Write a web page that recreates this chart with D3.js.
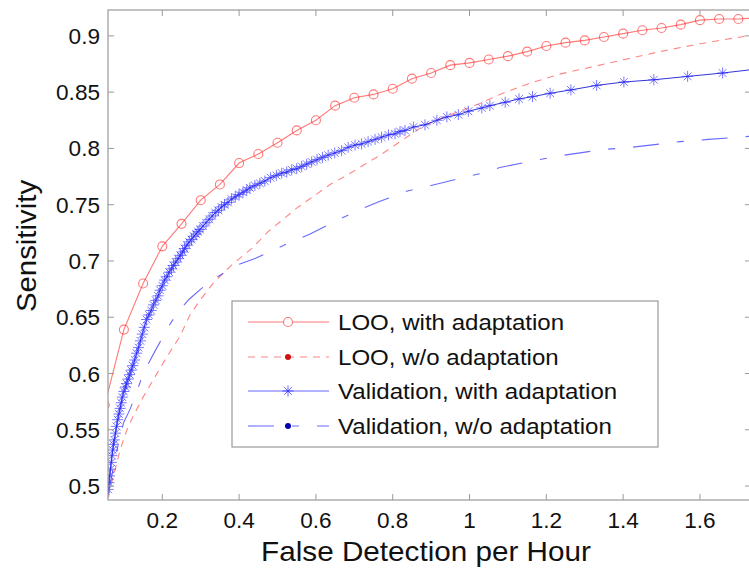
<!DOCTYPE html>
<html>
<head>
<meta charset="utf-8">
<script src="https://cdn.jsdelivr.net/npm/d3@7"></script>
<style>
  html, body { margin: 0; padding: 0; background: #fff; }
  svg { display: block; font-family: "Liberation Sans", Arial, sans-serif; }
</style>
</head>
<body>
<svg id="chart" width="749" height="580"></svg>
<script>
// LOO, with adaptation (sampled every 0.05 false detections per hour)
const looAdaptX = [0.05,0.10,0.15,0.20,0.25,0.30,0.35,0.40,0.45,0.50,0.55,0.60,0.65,0.70,0.75,0.80,0.85,0.90,0.95,1.00,1.05,1.10,1.15,1.20,1.25,1.30,1.35,1.40,1.45,1.50,1.55,1.60,1.65,1.70,1.75];
const looAdaptY = [0.572,0.639,0.680,0.713,0.733,0.754,0.768,0.787,0.795,0.805,0.816,0.825,0.838,0.845,0.848,0.853,0.862,0.867,0.874,0.876,0.879,0.882,0.886,0.891,0.894,0.896,0.899,0.902,0.905,0.907,0.910,0.914,0.915,0.915,0.916];

// LOO, without adaptation
const looNoAdaptX = [0.060,0.065,0.079,0.090,0.108,0.124,0.150,0.181,0.212,0.246,0.272,0.298,0.332,0.376,0.436,0.472,0.511,0.550,0.592,0.637,0.680,0.723,0.763,0.806,0.845,0.880,0.950,1.027,1.079,1.157,1.235,1.313,1.404,1.495,1.600,1.740];
const looNoAdaptY = [0.490,0.499,0.517,0.532,0.550,0.562,0.579,0.597,0.615,0.633,0.652,0.665,0.680,0.695,0.712,0.725,0.736,0.747,0.757,0.768,0.776,0.785,0.793,0.803,0.812,0.820,0.830,0.840,0.848,0.858,0.866,0.872,0.879,0.886,0.893,0.901];

// Validation, with adaptation (one marker per operating point)
const valAdaptX = [0.059,0.061,0.063,0.065,0.067,0.069,0.071,0.073,0.075,0.078,0.081,0.084,0.087,0.090,0.093,0.096,0.100,0.104,0.107,0.111,0.115,0.119,0.123,0.128,0.133,0.138,0.143,0.148,0.153,0.159,0.165,0.171,0.177,0.183,0.189,0.194,
  0.200,0.206,0.212,0.218,0.224,0.229,0.235,0.241,0.247,0.253,0.258,0.264,0.270,0.276,0.282,0.288,0.293,0.298,0.306,0.314,0.322,0.330,0.338,0.346,0.354,0.362,0.371,0.380,0.390,0.400,0.410,0.420,0.428,0.441,0.454,0.467,0.482,0.497,
  0.511,0.524,0.537,0.550,0.563,0.576,0.589,0.603,0.617,0.632,0.649,0.667,0.684,0.702,0.719,0.736,0.754,0.771,0.789,0.806,0.819,0.832,0.854,0.884,0.915,0.941,0.971,0.997,1.032,1.053,1.093,1.129,1.164,1.210,1.264,1.331,1.402,1.480,1.568,1.659,1.760];
const valAdaptY = [0.497,0.503,0.509,0.515,0.521,0.527,0.532,0.537,0.541,0.547,0.553,0.559,0.564,0.569,0.574,0.579,0.584,0.588,0.591,0.595,0.599,0.603,0.607,0.612,0.618,0.623,0.629,0.635,0.641,0.648,0.652,0.656,0.661,0.665,0.669,0.674,
  0.678,0.683,0.686,0.690,0.693,0.696,0.699,0.702,0.705,0.708,0.711,0.714,0.717,0.719,0.722,0.724,0.726,0.728,0.731,0.734,0.737,0.740,0.743,0.745,0.748,0.750,0.752,0.755,0.757,0.759,0.761,0.763,0.765,0.767,0.769,0.771,0.774,0.776,
  0.778,0.779,0.781,0.782,0.784,0.786,0.788,0.790,0.792,0.794,0.796,0.798,0.801,0.803,0.804,0.806,0.808,0.810,0.812,0.813,0.815,0.816,0.819,0.821,0.825,0.828,0.830,0.833,0.836,0.838,0.841,0.844,0.846,0.849,0.852,0.856,0.859,0.861,0.864,0.867,0.871];

// Validation, without adaptation
const valNoAdaptX = [0.058,0.075,0.087,0.099,0.117,0.138,0.150,0.186,0.215,0.241,0.270,0.300,0.330,0.363,0.400,0.440,0.472,0.530,0.585,0.654,0.710,0.767,0.836,0.900,0.958,1.032,1.079,1.150,1.227,1.348,1.422,1.548,1.622,1.740];
const valNoAdaptY = [0.492,0.520,0.540,0.556,0.569,0.588,0.600,0.623,0.641,0.655,0.666,0.675,0.683,0.690,0.697,0.702,0.707,0.716,0.724,0.736,0.745,0.753,0.762,0.767,0.772,0.778,0.783,0.788,0.793,0.799,0.801,0.806,0.808,0.811];

const xTicks = [0.2,0.4,0.6,0.8,1.0,1.2,1.4,1.6];
const yTicks = [0.5,0.55,0.6,0.65,0.7,0.75,0.8,0.85,0.9];

const legendLabels = ["LOO, with adaptation","LOO, w/o adaptation","Validation, with adaptation","Validation, w/o adaptation"];

const svg = d3.select("#chart");
const plot = { left: 108, top: 10, right: 751, bottom: 500 };

const x = d3.scaleLinear().domain([0.0586, 1.733]).range([plot.left, plot.right]);
const y = d3.scaleLinear().domain([0.4876, 0.923]).range([plot.bottom, plot.top]);

const RED = "#ff2020", BLUE = "#2a2aff";
const redDash = "7,6", blueDashDot = "26,18,7,18";

svg.append("defs").append("clipPath").attr("id", "plotClip")
  .append("rect").attr("x", plot.left).attr("y", plot.top)
  .attr("width", plot.right - plot.left).attr("height", plot.bottom - plot.top);

const zip = (xs, ys) => xs.map((v, i) => [v, ys[i]]);
const line = d3.line().x(d => x(d[0])).y(d => y(d[1]));

const series = svg.append("g").attr("clip-path", "url(#plotClip)");

// dashed curves first so the marked curves sit on top
series.append("path").datum(zip(looNoAdaptX, looNoAdaptY))
  .attr("d", line).attr("fill", "none").attr("stroke", RED)
  .attr("stroke-opacity", 0.55).attr("stroke-width", 1.1).attr("stroke-dasharray", redDash);

series.append("path").datum(zip(valNoAdaptX, valNoAdaptY))
  .attr("d", line).attr("fill", "none").attr("stroke", BLUE)
  .attr("stroke-opacity", 0.7).attr("stroke-width", 1.1).attr("stroke-dasharray", blueDashDot);

// Validation with adaptation: thin line + asterisk markers
const star = r => {
  const d = r * 0.7071;
  return `M${-r},0L${r},0M0,${-r}L0,${r}M${-d},${-d}L${d},${d}M${-d},${d}L${d},${-d}`;
};
const valPts = zip(valAdaptX, valAdaptY);
series.append("path").datum(valPts)
  .attr("d", line).attr("fill", "none").attr("stroke", "#0000d0")
  .attr("stroke-opacity", 0.8).attr("stroke-width", 1);
series.append("g").selectAll("path").data(valPts).join("path")
  .attr("transform", d => `translate(${x(d[0])},${y(d[1])})`)
  .attr("d", star(5.5)).attr("fill", "none")
  .attr("stroke", BLUE).attr("stroke-opacity", 0.7).attr("stroke-width", 0.9);

// LOO with adaptation: thin line + circle markers
const looPts = zip(looAdaptX, looAdaptY);
series.append("path").datum(looPts)
  .attr("d", line).attr("fill", "none").attr("stroke", RED)
  .attr("stroke-opacity", 0.6).attr("stroke-width", 1.1);
series.append("g").selectAll("circle").data(looPts).join("circle")
  .attr("cx", d => x(d[0])).attr("cy", d => y(d[1])).attr("r", 4.5)
  .attr("fill", "none").attr("stroke", RED).attr("stroke-opacity", 0.6).attr("stroke-width", 1.1);

// axes box with inward ticks on all four sides
const AX = "#9a9a9a", TL = 6;
const axes = svg.append("g");
axes.append("rect").attr("x", plot.left).attr("y", plot.top)
  .attr("width", plot.right - plot.left).attr("height", plot.bottom - plot.top)
  .attr("fill", "none").attr("stroke", AX).attr("stroke-width", 1.2);

const fmt = v => String(+v.toFixed(2));

const xt = axes.append("g").selectAll("g").data(xTicks).join("g");
xt.append("line").attr("x1", d => x(d)).attr("x2", d => x(d))
  .attr("y1", plot.bottom).attr("y2", plot.bottom - TL).attr("stroke", AX);
xt.append("line").attr("x1", d => x(d)).attr("x2", d => x(d))
  .attr("y1", plot.top).attr("y2", plot.top + TL).attr("stroke", AX);
xt.append("text").attr("transform", d => `translate(${x(d)},528) scale(1.05,1)`)
  .attr("text-anchor", "middle").attr("font-size", 21.5).attr("fill", "#111")
  .text(fmt);

const yt = axes.append("g").selectAll("g").data(yTicks).join("g");
yt.append("line").attr("x1", plot.left).attr("x2", plot.left + TL)
  .attr("y1", d => y(d)).attr("y2", d => y(d)).attr("stroke", AX);
yt.append("line").attr("x1", plot.right).attr("x2", plot.right - TL)
  .attr("y1", d => y(d)).attr("y2", d => y(d)).attr("stroke", AX);
yt.append("text").attr("transform", d => `translate(100,${y(d) + 8}) scale(1.05,1)`)
  .attr("text-anchor", "end").attr("font-size", 21.5).attr("fill", "#111")
  .text(fmt);

// axis titles
svg.append("text").attr("transform", "translate(426,561) scale(1.06,1)")
  .attr("text-anchor", "middle").attr("font-size", 28).attr("fill", "#111")
  .text("False Detection per Hour");
svg.append("text").attr("transform", "translate(36,246) rotate(-90) scale(1.05,1)")
  .attr("text-anchor", "middle").attr("font-size", 28).attr("fill", "#111")
  .text("Sensitivity");

// legend
const lg = svg.append("g");
lg.append("rect").attr("x", 232).attr("y", 301).attr("width", 426).attr("height", 146)
  .attr("fill", "#fff").attr("stroke", AX).attr("stroke-width", 1.2);

const rowsY = [322, 357, 391, 426];
const styles = [
  { color: RED, op: 0.6, dash: null, marker: "circle" },
  { color: RED, op: 0.55, dash: redDash, marker: "dot", dotColor: "#d01010" },
  { color: BLUE, op: 0.7, dash: null, marker: "star" },
  { color: BLUE, op: 0.7, dash: blueDashDot, marker: "dot", dotColor: "#0000b0" }
];
legendLabels.forEach((label, i) => {
  const s = styles[i], cy = rowsY[i];
  const ln = lg.append("line").attr("x1", 248).attr("x2", 329).attr("y1", cy).attr("y2", cy)
    .attr("stroke", s.color).attr("stroke-opacity", s.op).attr("stroke-width", 1.1);
  if (s.dash) ln.attr("stroke-dasharray", s.dash);
  if (s.marker === "circle") {
    lg.append("circle").attr("cx", 288).attr("cy", cy).attr("r", 4.5)
      .attr("fill", "#fff").attr("stroke", s.color).attr("stroke-opacity", s.op).attr("stroke-width", 1.1);
  } else if (s.marker === "star") {
    lg.append("path").attr("transform", `translate(288,${cy})`).attr("d", star(5.5))
      .attr("fill", "none").attr("stroke", s.color).attr("stroke-opacity", 0.8).attr("stroke-width", 0.9);
  } else {
    lg.append("circle").attr("cx", 288).attr("cy", cy).attr("r", 3).attr("fill", s.dotColor);
  }
  lg.append("text").attr("transform", `translate(338,${cy + 7.5}) scale(1.12,1)`)
    .attr("font-size", 21.5).attr("fill", "#111").text(label);
});
</script>
</body>
</html>
